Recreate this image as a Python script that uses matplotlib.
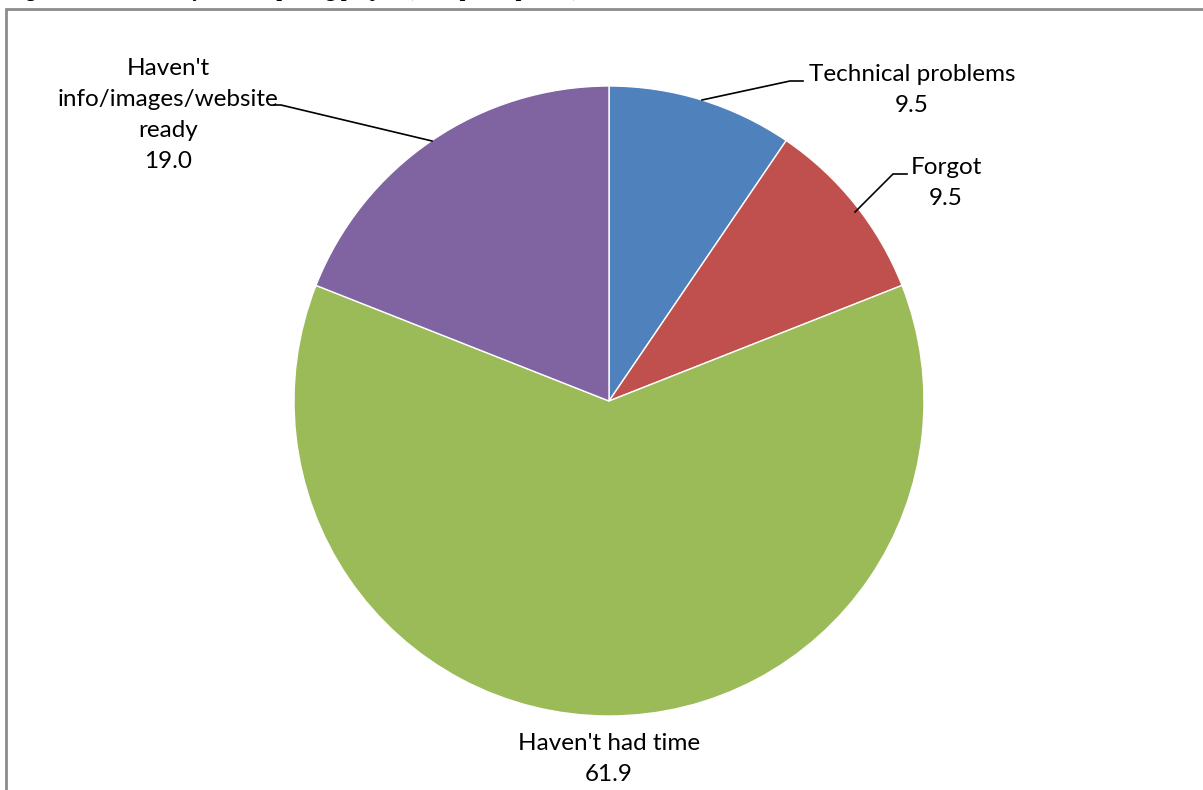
import matplotlib.pyplot as plt
from matplotlib.patches import Rectangle

# data
labels = ["Technical problems", "Forgot", "Haven't had time", "Haven't\ninfo/images/website\nready"]
values = [9.5, 9.5, 61.9, 19.0]
colors = ["#4F81BD", "#C0504D", "#9BBB59", "#8064A2"]

W, H = 1203, 790
fig = plt.figure(figsize=(W / 100, H / 100), dpi=100)


def fx(px):
    return px / W


def fy(py):
    return 1 - py / H


# pie centred at (609, 401) px, radius 315 px
cx, cy, r = 609, 401, 315
ax = fig.add_axes([fx(cx - r), fy(cy + r), 2 * r / W, 2 * r / H])
ax.pie(values, colors=colors, startangle=90, counterclock=False,
       wedgeprops=dict(edgecolor="white", linewidth=1.0))
ax.set_xlim(-1, 1)
ax.set_ylim(-1, 1)
ax.set_aspect("auto")
ax.axis("off")

# label placement (pixels) and leader lines
label_pos = [(912, 90), (946, 183), (609, 759), (168, 115)]
leaders = [
    [(702, 100), (790, 81), (803, 81)],
    [(855, 212), (893, 174), (907, 174)],
    None,
    [(432, 141), (281, 105), (274, 105)],
]
font = "Lato"
for lab, val, (px, py), ld in zip(labels, values, label_pos, leaders):
    fig.text(fx(px), fy(py), f"{lab}\n{val:.1f}", ha="center", va="center",
             fontsize=17.5, family=font, linespacing=1.6)
    if ld:
        xs = [fx(p[0]) for p in ld]
        ys = [fy(p[1]) for p in ld]
        fig.add_artist(plt.Line2D(xs, ys, transform=fig.transFigure,
                                  color="black", lw=1.2))

# chart border (cut off at right and bottom)
fig.add_artist(Rectangle((fx(6), fy(H + 20)), 2, fy(9) - fy(H + 20),
                         transform=fig.transFigure, fill=False,
                         edgecolor="#8c8c8c", lw=2))

# title, mostly cropped off the top of the image
fig.text(fx(8), fy(-4), "Figure 7: Reasons why not completing project (multiple responses)",
         ha="left", va="baseline", fontsize=14.5, family="Liberation Serif",
         fontweight="bold")

fig.savefig("out.png", dpi=100, facecolor="white")
